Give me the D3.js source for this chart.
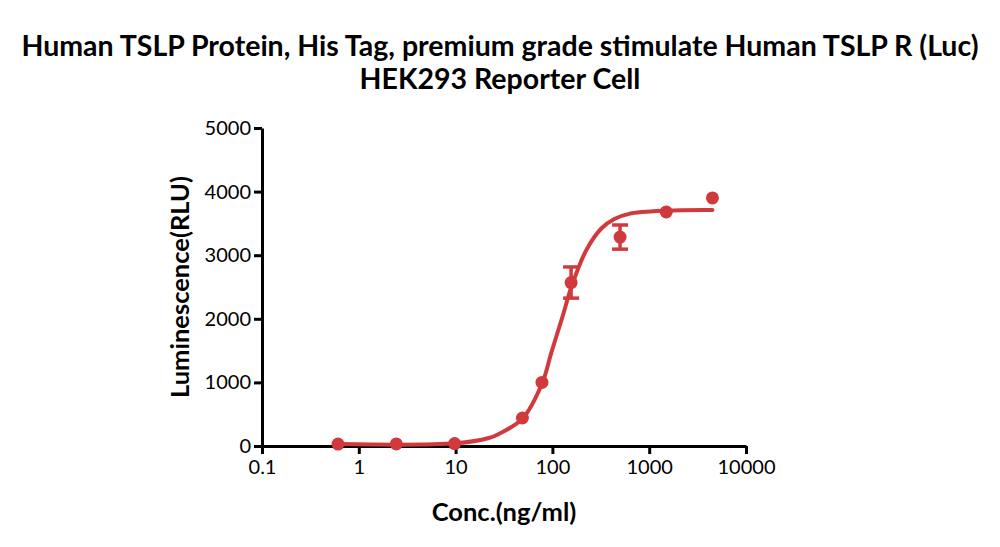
<!DOCTYPE html>
<html>
<head>
<meta charset="utf-8">
<script src="https://cdn.jsdelivr.net/npm/d3@7"></script>
<style>
  body { margin: 0; background: #fff; }
  .axis path, .axis line { stroke: #000; stroke-width: 3; }
  .axis text { font-family: Lato, "Open Sans", sans-serif; font-size: 20px; fill: #000; }
  .title, .axis-title { font-family: Lato, "Open Sans", sans-serif; font-weight: bold; fill: #000; }
</style>
</head>
<body>
<svg id="chart"></svg>
<script>
// measured points (ng/ml vs RLU)
const conc = [0.61, 2.44, 9.77, 49, 78, 156, 500, 1500, 4500];
const lum = [30, 32, 38, 440, 1000, 2570, 3285, 3680, 3900];
const sd = [0, 0, 0, 0, 0, 245, 190, 0, 0];

// fitted curve
const fitConc = [0.61, 10, 22, 28, 49, 79, 98, 127, 157, 224, 320, 436, 620, 1460, 4500];
const fitLum = [30, 42, 125, 190, 430, 1000, 1480, 2030, 2500, 3080, 3420, 3570, 3650, 3700, 3710];

const xTicks = [0.1, 1, 10, 100, 1000, 10000];
const yTicks = [0, 1000, 2000, 3000, 4000, 5000];

const titleLines = ["Human TSLP Protein, His Tag, premium grade stimulate Human TSLP R (Luc)", "HEK293 Reporter Cell"];

class doseChart {
    constructor(_config, _data) {
        this.config = {
            parentElement: _config.parentElement,
            containerWidth: _config.containerWidth || 1000,
            containerHeight: _config.containerHeight || 547,
            margin: {top: 128, right: 254, bottom: 101, left: 262},
            color: _config.color || "#d13a3d"
        }
        this.data = _data;
        this.initVis();
    }

    initVis() {
        let vis = this;

        vis.width = vis.config.containerWidth - vis.config.margin.left - vis.config.margin.right;
        vis.height = vis.config.containerHeight - vis.config.margin.top - vis.config.margin.bottom;

        vis.xScale = d3.scaleLog()
            .domain([0.1, 10000])
            .range([0, vis.width]);

        vis.yScale = d3.scaleLinear()
            .domain([0, 5000])
            .range([vis.height, 0]);

        vis.xAxis = d3.axisBottom(vis.xScale)
            .tickValues(xTicks)
            .tickFormat(d => String(d))
            .tickSize(8)
            .tickSizeOuter(0)
            .tickPadding(6);

        vis.yAxis = d3.axisLeft(vis.yScale)
            .tickValues(yTicks)
            .tickFormat(d3.format("d"))
            .tickSize(8)
            .tickSizeOuter(0)
            .tickPadding(3);

        vis.svg = d3.select(vis.config.parentElement)
            .attr('width', vis.config.containerWidth)
            .attr('height', vis.config.containerHeight);

        vis.chart = vis.svg.append("g")
            .attr("transform", `translate(${vis.config.margin.left},${vis.config.margin.top})`);

        vis.xAxisG = vis.chart.append("g")
            .attr("class", "axis x-axis")
            .attr("transform", `translate(0,${vis.height})`);

        vis.yAxisG = vis.chart.append("g")
            .attr("class", "axis y-axis");

        // titles
        vis.svg.selectAll(".title")
            .data(titleLines)
            .join("text")
            .attr("class", "title")
            .attr("x", 500)
            .attr("y", (d, i) => 56 + i * 33)
            .attr("text-anchor", "middle")
            .attr("font-size", 28.5)
            .text(d => d);

        vis.svg.append("text")
            .attr("class", "axis-title")
            .attr("x", 504)
            .attr("y", 521)
            .attr("text-anchor", "middle")
            .attr("font-size", 25.5)
            .text("Conc.(ng/ml)");

        vis.svg.append("text")
            .attr("class", "axis-title")
            .attr("transform", "translate(189,287) rotate(-90)")
            .attr("text-anchor", "middle")
            .attr("font-size", 25.5)
            .text("Luminescence(RLU)");
    }

    updateVis() {
        let vis = this;
        vis.points = conc.map((c, i) => ({x: c, y: lum[i], sd: sd[i]}));
        vis.fit = fitConc.map((c, i) => ({x: c, y: fitLum[i]}));

        vis.fitLine = d3.line()
            .x(d => vis.xScale(d.x))
            .y(d => vis.yScale(d.y))
            .curve(d3.curveCatmullRom.alpha(0.5));

        vis.renderVis();
    }

    renderVis() {
        let vis = this;
        const col = vis.config.color;

        vis.xAxisG.call(vis.xAxis);
        vis.yAxisG.call(vis.yAxis);

        vis.chart.append("path")
            .datum(vis.fit)
            .attr("fill", "none")
            .attr("stroke", col)
            .attr("stroke-width", 4)
            .attr("stroke-linecap", "round")
            .attr("d", vis.fitLine);

        // error bars
        const errs = vis.points.filter(d => d.sd > 0);
        const eb = vis.chart.selectAll(".err").data(errs).join("g").attr("class", "err")
            .attr("stroke", col).attr("stroke-width", 3.5);
        eb.append("line")
            .attr("x1", d => vis.xScale(d.x)).attr("x2", d => vis.xScale(d.x))
            .attr("y1", d => vis.yScale(d.y + d.sd)).attr("y2", d => vis.yScale(d.y - d.sd));
        eb.selectAll(".cap").data(d => [d.y + d.sd, d.y - d.sd].map(v => ({x: d.x, v: v})))
            .join("line").attr("class", "cap")
            .attr("x1", d => vis.xScale(d.x) - 8).attr("x2", d => vis.xScale(d.x) + 8)
            .attr("y1", d => vis.yScale(d.v)).attr("y2", d => vis.yScale(d.v));

        vis.chart.selectAll(".dot")
            .data(vis.points)
            .join("circle")
            .attr("class", "dot")
            .attr("cx", d => vis.xScale(d.x))
            .attr("cy", d => vis.yScale(d.y))
            .attr("r", 6.5)
            .attr("fill", col);
    }
}

const chart = new doseChart({parentElement: "#chart"}, conc);
chart.updateVis();
</script>
</body>
</html>
